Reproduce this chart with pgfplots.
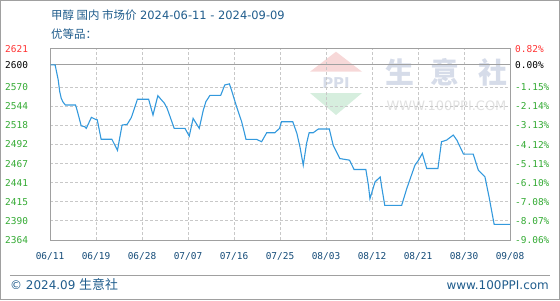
\documentclass[border=0pt]{standalone}
\usepackage{pgfplots}
\pgfplotsset{compat=1.18}
\usepackage{fontspec}
\setmainfont{DejaVu Sans}
\newfontfamily\mono{DejaVu Sans Mono}
\newfontfamily\cjk{Noto Sans CJK SC}
\definecolor{titleblue}{RGB}{31,92,140}
\definecolor{xlab}{RGB}{20,75,120}
\definecolor{ygreen}{RGB}{51,170,51}
\definecolor{yred}{RGB}{255,51,51}
\definecolor{linec}{RGB}{51,153,221}
\definecolor{frame}{RGB}{160,160,160}
\definecolor{gridc}{RGB}{200,200,200}
\definecolor{wmblue}{RGB}{214,220,233}
\definecolor{wmred}{RGB}{247,216,216}
\definecolor{wmgreen}{RGB}{214,238,222}
\begin{document}
\begin{tikzpicture}
\begin{scope}[shift={(-50bp,-60bp)}, x=1bp, y=1bp]
\useasboundingbox (0,0) rectangle (560,300);
\draw[frame, line width=1bp] (0.5,0.5) rectangle (559.5,299.5);
% title
\node[anchor=west, inner sep=0pt, text=titleblue, font=\fontsize{11.5}{13}\selectfont] at (51,285) {{\cjk 甲醇 国内 市场价} 2024-06-11 - 2024-09-09};
\node[anchor=west, inner sep=0pt, text=titleblue, font=\cjk\fontsize{11.5}{13}\selectfont] at (51,266) {优等品：};
% watermark
\fill[wmred] (310,228.3) -- (362,228.3) -- (336,248.3) -- cycle;
\fill[wmgreen] (310,207) -- (362,207) -- (336,185) -- cycle;
\node[text=wmblue, inner sep=0pt, font=\bfseries\fontsize{15}{16}\selectfont] at (336,216.5) {PPI};
\node[text=wmblue, inner sep=0pt, font=\cjk\bfseries\fontsize{29}{30}\selectfont] at (400,228) {生};
\node[text=wmblue, inner sep=0pt, font=\cjk\bfseries\fontsize{29}{30}\selectfont] at (445,228) {意};
\node[text=wmblue, inner sep=0pt, font=\cjk\bfseries\fontsize{29}{30}\selectfont] at (492.5,228) {社};
\node[text=black!12, inner sep=0pt, font=\fontsize{13}{14}\selectfont] at (446.5,194.3) {WWW.100PPI.COM};
% footer
\draw[frame, line width=1bp] (10,25) -- (550,25);
\node[anchor=west, inner sep=0pt, text=titleblue, font=\fontsize{12}{13}\selectfont] at (10,15) {© 2024.09 {\cjk\fontsize{13}{14}\selectfont 生意社}};
\node[anchor=east, inner sep=0pt, text=titleblue, font=\fontsize{12}{13}\selectfont] at (549,15) {www.100PPI.com};
\end{scope}
\begin{axis}[
  at={(0,0)}, anchor=south west,
  scale only axis, width=460bp, height=191bp,
  xmin=0, xmax=90, ymin=2364.44, ymax=2621.32,
  axis line style={draw=frame, line width=1bp},
  major tick length=0pt,
  /pgf/number format/assume math mode=true,
  xtick={0,9,...,90},
  xticklabels={06/11,06/19,06/28,07/07,07/16,07/25,08/03,08/12,08/21,08/30,09/08},
  xticklabel style={text=xlab, font=\mono\fontsize{9.5}{10}\selectfont, inner sep=0pt, yshift=-12bp},
  ytick={2364.44,2390.17,2415.91,2441.66,2467.14,2492.88,2518.62,2544.36,2570.10},
  yticklabels={2364,2390,2415,2441,2467,2492,2518,2544,2570},
  yticklabel style={text=ygreen, font=\mono\fontsize{9.5}{10}\selectfont, anchor=west, inner sep=0pt, xshift=-45bp},
  extra y ticks={2600,2621.32},
  extra y tick labels={\textcolor{black}{2600},\textcolor{yred}{2621}},
  extra y tick style={grid=major, major grid style={solid, draw=frame, line width=1bp}},
  grid=major,
  major grid style={draw=gridc, line width=0.8bp, dash pattern=on 3bp off 2bp},
  clip=false,
]
\addplot[linec, line width=1.1bp] coordinates {
(0.1,2600) (1.0,2600) (1.6,2580) (1.9,2564) (2.2,2555) (2.5,2550.5) (3.0,2546)
(5.0,2546) (5.3,2539) (5.8,2526) (6.1,2518) (6.8,2516.8) (7.1,2514.6)
(8.1,2529.4) (8.9,2526.7) (9.25,2526) (10.0,2500) (12.1,2500) (13.2,2485)
(14.1,2519) (15.1,2520) (15.9,2529) (16.4,2539) (17.1,2553.7) (19.3,2553.7)
(20.15,2532.5) (21.1,2558.6) (21.7,2553.7) (22.4,2548.3) (22.9,2541.6) (23.15,2537)
(24.3,2514.6) (26.4,2514.6) (27.25,2504.2) (28.0,2528) (29.2,2514.6) (30.0,2539.3)
(30.5,2550.5) (31.3,2559) (33.4,2559) (34.2,2573) (35.1,2574.4) (35.5,2566.3)
(36.5,2543.8) (37.5,2523.5) (38.35,2499.8) (40.4,2499.8) (41.4,2496.6) (42.4,2508.7)
(44.0,2508.7) (44.9,2514.6) (45.3,2523.5) (47.5,2523.5) (48.3,2507.9) (48.9,2489.8)
(49.55,2465) (50.2,2494.4) (50.7,2508.7) (51.5,2508.7) (52.5,2513.7) (54.65,2513.7)
(55.4,2492) (56.7,2474) (58.6,2471.8) (59.5,2459.2) (61.8,2459.2) (62.3,2438)
(62.6,2420) (63.6,2442.6) (64.6,2449.3) (64.9,2435.8) (65.5,2411) (68.8,2411)
(69.8,2433.6) (71.4,2465) (72.1,2471.8) (72.85,2480.9) (73.7,2460.6) (75.9,2460.6)
(76.6,2496.6) (77.6,2498.8) (78.9,2505.6) (79.6,2498.8) (80.9,2480) (82.8,2480)
(83.8,2458.4) (85.1,2449.3) (85.9,2422.4) (86.9,2385.5) (90,2385.5)
};
\end{axis}
\begin{axis}[
  at={(0,0)}, anchor=south west,
  scale only axis, width=460bp, height=191bp,
  xmin=0, xmax=90, ymin=2364.44, ymax=2621.32,
  hide x axis,
  axis y line*=right,
  y axis line style={draw=none},
  major tick length=0pt,
  ytick={2364.44,2390.17,2415.91,2441.66,2467.14,2492.88,2518.62,2544.36,2570.10,2600,2621.32},
  yticklabels={-9.06\%,-8.07\%,-7.08\%,-6.10\%,-5.11\%,-4.12\%,-3.13\%,-2.14\%,-1.15\%,\textcolor{black}{0.00\%},\textcolor{yred}{0.82\%}},
  yticklabel style={text=ygreen, font=\mono\fontsize{9.5}{10}\selectfont, anchor=west, inner sep=0pt, xshift=5bp},
]
\end{axis}
\end{tikzpicture}
\end{document}
